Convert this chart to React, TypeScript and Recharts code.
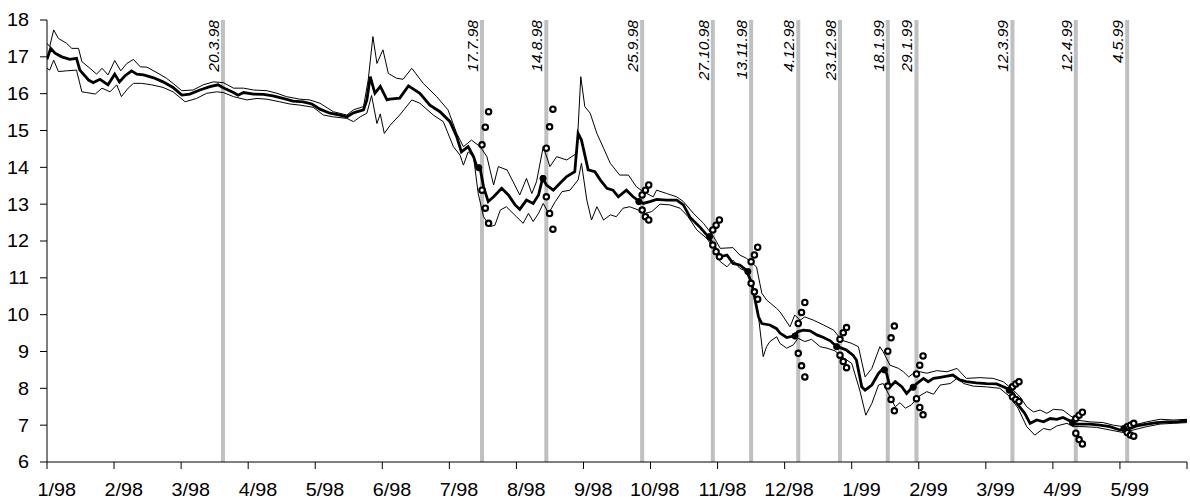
import React from 'react';
import { ComposedChart, Line, Scatter, XAxis, YAxis } from 'recharts';

const FONT = '"Liberation Sans", Arial, sans-serif';

const monthLabels = ['1/98','2/98','3/98','4/98','5/98','6/98','7/98','8/98','9/98','10/98','11/98','12/98','1/99','2/99','3/99','4/99','5/99'];
const monthTicks = [0,1,2,3,4,5,6,7,8,9,10,11,12,13,14,15,16,17];
const yTicks = [6,7,8,9,10,11,12,13,14,15,16,17,18];
const yDomain: [number, number] = [6, 18];

// [month position, value]
const centerLine: [number, number][] = [
  [0.00,16.93],[0.055,17.23],[0.12,17.10],[0.22,17.00],[0.34,16.93],[0.44,16.96],[0.49,16.64],[0.62,16.37],
  [0.69,16.30],[0.79,16.39],[0.91,16.24],[1.01,16.53],[1.08,16.32],[1.16,16.48],[1.26,16.62],[1.34,16.53],
  [1.44,16.51],[1.59,16.43],[1.73,16.32],[1.88,16.17],[2.01,15.96],[2.13,15.99],[2.28,16.10],[2.43,16.19],
  [2.55,16.24],[2.62,16.17],[2.78,16.03],[2.85,15.96],[2.93,16.03],[3.08,15.99],[3.23,15.98],[3.37,15.94],
  [3.52,15.87],[3.67,15.80],[3.82,15.78],[3.95,15.72],[4.07,15.58],[4.22,15.47],[4.37,15.42],[4.47,15.37],
  [4.57,15.48],[4.72,15.56],[4.77,15.83],[4.82,16.46],[4.89,16.01],[4.97,16.20],[5.07,15.83],[5.11,15.85],
  [5.26,15.88],[5.39,16.21],[5.56,16.01],[5.71,15.69],[5.86,15.51],[6.01,15.24],[6.11,14.83],[6.18,14.42],
  [6.28,14.56],[6.36,14.29],[6.41,14.02],[6.46,13.96],[6.51,13.47],[6.58,13.07],[6.66,13.20],[6.78,13.43],
  [6.88,13.25],[6.98,12.98],[7.05,12.86],[7.15,13.11],[7.25,13.02],[7.33,13.25],[7.39,13.70],[7.45,13.52],
  [7.55,13.38],[7.65,13.57],[7.75,13.75],[7.87,13.88],[7.92,14.92],[7.97,14.74],[8.07,13.93],[8.17,13.88],
  [8.25,13.66],[8.35,13.43],[8.44,13.38],[8.52,13.20],[8.64,13.38],[8.74,13.20],[8.84,13.07],[8.89,13.02],
  [8.99,13.07],[9.09,13.13],[9.24,13.11],[9.39,13.11],[9.49,12.98],[9.59,12.64],[9.74,12.37],[9.86,12.12],
  [9.94,11.89],[10.04,11.57],[10.14,11.62],[10.23,11.39],[10.33,11.35],[10.43,11.21],[10.51,10.85],[10.56,10.40],
  [10.61,9.94],[10.66,9.76],[10.78,9.72],[10.88,9.62],[10.93,9.50],[11.03,9.38],[11.13,9.42],[11.20,9.54],
  [11.28,9.58],[11.38,9.56],[11.48,9.45],[11.58,9.38],[11.68,9.29],[11.78,9.13],[11.85,9.09],[11.92,9.04],
  [12.02,8.90],[12.07,8.77],[12.15,8.04],[12.20,7.95],[12.30,8.09],[12.40,8.41],[12.47,8.54],[12.52,8.41],
  [12.57,8.04],[12.65,8.18],[12.75,8.04],[12.82,7.86],[12.89,8.00],[12.97,8.13],[13.07,8.27],[13.14,8.18],
  [13.22,8.27],[13.32,8.30],[13.42,8.33],[13.51,8.36],[13.61,8.23],[13.71,8.18],[13.86,8.15],[14.01,8.13],
  [14.16,8.12],[14.31,8.00],[14.41,7.86],[14.48,7.55],[14.58,7.32],[14.66,7.05],[14.76,7.14],[14.86,7.09],
  [14.96,7.18],[15.06,7.16],[15.15,7.21],[15.25,7.12],[15.30,7.03],[15.40,7.03],[15.55,7.03],[15.70,7.00],
  [15.85,6.96],[16.00,6.87],[16.10,6.87],[16.25,6.98],[16.40,7.03],[16.55,7.07],[16.70,7.09],[16.85,7.09],
  [17.00,7.12],
];

const upperLine: [number, number][] = [
  [0.00,17.37],[0.04,17.28],[0.10,17.73],[0.17,17.50],[0.29,17.37],[0.37,17.23],[0.47,17.23],[0.52,16.87],
  [0.64,16.69],[0.74,16.53],[0.82,16.69],[0.91,16.51],[1.01,16.90],[1.10,16.62],[1.19,16.82],[1.29,16.93],
  [1.39,16.73],[1.49,16.72],[1.64,16.57],[1.78,16.42],[1.88,16.28],[2.01,16.08],[2.18,16.10],[2.33,16.24],
  [2.48,16.32],[2.63,16.30],[2.78,16.15],[2.93,16.15],[3.08,16.10],[3.28,16.08],[3.43,16.01],[3.57,15.92],
  [3.77,15.85],[3.92,15.83],[4.07,15.74],[4.27,15.51],[4.47,15.42],[4.57,15.56],[4.72,15.65],[4.79,16.37],
  [4.86,17.55],[4.92,16.82],[5.01,17.19],[5.09,16.55],[5.21,16.42],[5.31,16.39],[5.44,16.69],[5.61,16.28],
  [5.81,15.92],[5.98,15.56],[6.11,14.92],[6.21,14.56],[6.33,14.74],[6.46,14.56],[6.56,14.29],[6.66,13.52],
  [6.73,14.02],[6.86,13.93],[6.95,13.61],[7.05,13.25],[7.15,13.70],[7.23,13.29],[7.30,13.61],[7.40,14.56],
  [7.50,14.02],[7.60,14.29],[7.75,14.20],[7.90,14.38],[7.96,16.46],[8.02,15.65],[8.10,15.47],[8.20,14.92],
  [8.30,14.52],[8.40,14.11],[8.54,13.79],[8.67,13.79],[8.79,13.47],[8.89,13.34],[9.04,13.20],[9.09,13.38],
  [9.24,13.29],[9.39,13.20],[9.49,13.07],[9.64,12.75],[9.79,12.48],[9.94,12.12],[10.04,11.80],[10.23,11.82],
  [10.33,11.62],[10.43,11.53],[10.58,11.30],[10.66,10.58],[10.73,10.40],[10.88,10.17],[10.93,10.08],[11.08,9.67],
  [11.15,9.99],[11.23,9.85],[11.30,9.94],[11.43,9.85],[11.58,9.72],[11.73,9.58],[11.85,9.31],[12.00,9.22],
  [12.10,9.13],[12.20,8.31],[12.30,8.54],[12.42,9.13],[12.47,8.99],[12.57,8.63],[12.70,8.54],[12.77,8.45],
  [12.85,8.31],[12.92,8.41],[13.02,8.45],[13.12,8.41],[13.27,8.48],[13.42,8.45],[13.57,8.54],[13.71,8.27],
  [13.91,8.29],[14.11,8.27],[14.26,8.18],[14.41,7.95],[14.51,7.77],[14.61,7.50],[14.71,7.36],[14.81,7.41],
  [14.91,7.32],[15.01,7.43],[15.15,7.41],[15.25,7.27],[15.35,7.14],[15.55,7.09],[15.75,7.07],[15.90,7.00],
  [16.05,6.96],[16.20,7.00],[16.40,7.09],[16.60,7.16],[16.80,7.14],[17.00,7.16],
];

const lowerLine: [number, number][] = [
  [0.00,16.69],[0.04,16.64],[0.10,16.91],[0.17,16.60],[0.29,16.62],[0.44,16.64],[0.52,16.05],[0.59,16.03],
  [0.72,15.99],[0.82,16.15],[0.94,16.05],[1.04,16.24],[1.11,15.92],[1.21,16.15],[1.29,16.28],[1.41,16.28],
  [1.56,16.24],[1.73,16.17],[1.88,16.05],[2.06,15.78],[2.23,15.87],[2.38,16.01],[2.53,16.05],[2.63,16.03],
  [2.78,15.92],[2.98,15.83],[3.13,15.87],[3.28,15.85],[3.47,15.78],[3.62,15.72],[3.77,15.69],[3.97,15.63],
  [4.12,15.42],[4.27,15.37],[4.47,15.33],[4.57,15.24],[4.67,15.37],[4.77,15.47],[4.84,15.95],[4.92,15.19],
  [4.97,15.45],[5.03,14.92],[5.12,15.15],[5.26,15.42],[5.44,15.83],[5.56,15.74],[5.76,15.42],[5.91,15.24],
  [6.06,14.56],[6.16,14.33],[6.21,14.06],[6.28,14.42],[6.36,14.29],[6.43,13.29],[6.51,12.66],[6.61,12.39],
  [6.68,12.43],[6.76,12.84],[6.85,12.93],[7.00,12.66],[7.10,12.48],[7.18,12.75],[7.25,12.53],[7.33,12.75],
  [7.40,13.02],[7.48,12.75],[7.58,13.07],[7.68,13.34],[7.80,13.38],[7.92,13.66],[7.97,14.11],[8.05,13.11],
  [8.12,12.57],[8.20,12.93],[8.30,12.57],[8.40,12.71],[8.49,12.66],[8.59,12.89],[8.69,12.93],[8.82,12.84],
  [8.92,12.75],[9.02,12.80],[9.14,13.00],[9.29,12.98],[9.44,12.89],[9.56,12.66],[9.69,12.30],[9.84,12.07],
  [9.94,11.80],[10.04,11.44],[10.14,11.30],[10.23,11.48],[10.33,11.26],[10.43,11.17],[10.53,10.71],[10.61,9.94],
  [10.68,8.86],[10.73,9.13],[10.78,9.27],[10.88,9.40],[10.93,9.22],[11.03,9.09],[11.13,9.18],[11.20,9.36],
  [11.30,9.27],[11.40,9.33],[11.53,9.13],[11.63,9.09],[11.75,9.02],[11.85,8.86],[12.00,8.68],[12.12,7.95],
  [12.21,7.27],[12.30,7.59],[12.40,8.09],[12.47,8.13],[12.57,7.77],[12.65,7.50],[12.72,7.61],[12.80,7.46],
  [12.89,7.55],[12.99,7.77],[13.12,7.91],[13.22,7.84],[13.32,8.09],[13.47,8.13],[13.57,8.27],[13.67,8.13],
  [13.81,8.06],[14.01,8.04],[14.21,8.00],[14.36,7.77],[14.48,7.46],[14.61,6.96],[14.73,6.73],[14.86,6.91],
  [14.96,6.87],[15.06,6.98],[15.21,7.05],[15.30,6.96],[15.45,6.96],[15.65,6.94],[15.85,6.87],[16.05,6.80],
  [16.20,6.87],[16.40,6.96],[16.60,7.03],[16.80,7.05],[17.00,7.07],
];

// Events (vertical markers)
const eventLabels = ['20.3.98','17.7.98','14.8.98','25.9.98','27.10.98','13.11.98','4.12.98','23.12.98','18.1.99','29.1.99','12.3.99','12.4.99','4.5.99'];
const eventPos = [2.624,6.487,7.446,8.875,9.929,10.50,11.203,11.825,12.538,12.966,14.397,15.342,16.108];
const eventCenter: (number | null)[] = [null,13.99,13.70,13.07,12.12,11.17,9.42,9.13,8.50,8.03,7.95,7.07,6.91];
const eventUpper: (number[] | null)[] = [
  null,[14.61,15.09,15.51],[14.52,15.10,15.58],[13.25,13.38,13.52],[12.30,12.43,12.57],[11.44,11.62,11.83],
  [9.76,10.06,10.33],[9.33,9.51,9.65],[9.01,9.37,9.69],[8.39,8.63,8.88],[8.04,8.12,8.18],[7.18,7.27,7.35],[6.96,7.00,7.05],
];
const eventLower: (number[] | null)[] = [
  null,[13.38,12.89,12.48],[13.20,12.75,12.32],[12.84,12.66,12.57],[11.89,11.71,11.57],[10.85,10.62,10.42],
  [8.95,8.61,8.31],[8.90,8.73,8.56],[8.06,7.70,7.39],[7.72,7.48,7.28],[7.77,7.70,7.64],[6.78,6.61,6.49],[6.80,6.73,6.70],
];
const dayStep = 0.049; // one trading day in month units

const toPts = (a: [number, number][]) => a.map(([x, y]) => ({ x, y }));

const centerPts: { x: number; y: number }[] = [];
const fanPts: { x: number; y: number }[] = [];
eventPos.forEach((p, i) => {
  const c = eventCenter[i];
  if (c != null) centerPts.push({ x: p - dayStep, y: c });
  const up = eventUpper[i];
  const lo = eventLower[i];
  if (up) up.forEach((v, k) => fanPts.push({ x: p + k * dayStep, y: v }));
  if (lo) lo.forEach((v, k) => fanPts.push({ x: p + k * dayStep, y: v }));
});
const labelPts = eventPos.map((p, i) => ({ x: p, y: yDomain[1], label: eventLabels[i] }));

const EventLabel = (props: any) => {
  const x = props.cx - 4;
  const y = props.cy;
  return (
    <text
      x={x}
      y={y}
      transform={`rotate(-90 ${x} ${y})`}
      textAnchor="end"
      fontSize={15.5}
      fontStyle="italic"
      fontFamily={FONT}
      fill="#000"
    >
      {props.payload.label}
    </text>
  );
};

const XTick = (props: any) => {
  const { x, y, payload } = props;
  const label = monthLabels[payload.value] ?? '';
  return (
    <text
      transform={`translate(${x + 29},${y}) scale(1.1,1)`}
      textAnchor="end"
      dy="0.71em"
      fontSize={18}
      fontFamily={FONT}
      fill="#000"
    >
      {label}
    </text>
  );
};

const YTick = (props: any) => {
  const { x, y, payload } = props;
  return (
    <text
      transform={`translate(${x},${y}) scale(1.1,1)`}
      textAnchor="end"
      dy="0.355em"
      fontSize={18}
      fontFamily={FONT}
      fill="#000"
    >
      {payload.value}
    </text>
  );
};

const RingDot = (props: any) => (
  <circle cx={props.cx} cy={props.cy} r={2.7} fill="#fff" stroke="#000" strokeWidth={2.1} />
);
const FilledDot = (props: any) => (
  <circle cx={props.cx} cy={props.cy} r={3.1} fill="#000" stroke="#000" strokeWidth={1} />
);
const NoShape = () => <g />;

export default function App() {
  return (
    <div style={{ position: 'absolute', left: 0, top: 0, background: '#fff' }}>
      <ComposedChart width={1190} height={502} margin={{ top: 20, right: 3, bottom: 0, left: 0 }}>
        <XAxis
          type="number"
          dataKey="x"
          domain={[0, 17]}
          ticks={monthTicks}
          interval={0}
          allowDataOverflow
          height={40}
          tickSize={7}
          tickMargin={14}
          axisLine={{ stroke: '#000' }}
          tickLine={{ stroke: '#000' }}
          tick={<XTick />}
        />
        <YAxis
          type="number"
          domain={yDomain}
          ticks={yTicks}
          interval={0}
          allowDataOverflow
          width={47}
          tickSize={7}
          tickMargin={11}
          axisLine={{ stroke: '#000' }}
          tickLine={{ stroke: '#000' }}
          tick={<YTick />}
        />
        {eventPos.map((p, i) => (
          <Line
            key={eventLabels[i]}
            data={[{ x: p, y: yDomain[0] }, { x: p, y: yDomain[1] }]}
            dataKey="y"
            type="linear"
            stroke="#c0c0c0"
            strokeWidth={4}
            dot={false}
            activeDot={false}
            isAnimationActive={false}
          />
        ))}
        <Line data={toPts(upperLine)} dataKey="y" type="linear" stroke="#000" strokeWidth={1} dot={false} isAnimationActive={false} />
        <Line data={toPts(lowerLine)} dataKey="y" type="linear" stroke="#000" strokeWidth={1} dot={false} isAnimationActive={false} />
        <Line data={toPts(centerLine)} dataKey="y" type="linear" stroke="#000" strokeWidth={2.8} dot={false} isAnimationActive={false} />
        <Scatter data={fanPts} dataKey="y" shape={RingDot} isAnimationActive={false} />
        <Scatter data={centerPts} dataKey="y" shape={FilledDot} isAnimationActive={false} />
        <Scatter data={labelPts} dataKey="y" shape={EventLabel} isAnimationActive={false} />
      </ComposedChart>
    </div>
  );
}
